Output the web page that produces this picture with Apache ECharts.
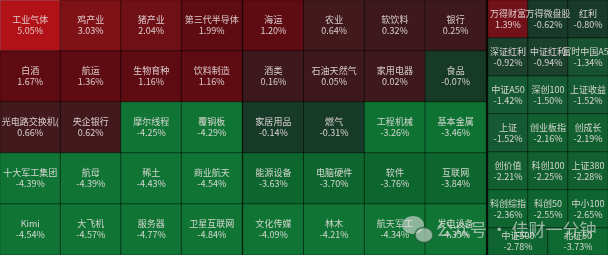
<!DOCTYPE html>
<html>
<head>
<meta charset="utf-8">
<script src="https://cdn.jsdelivr.net/npm/echarts@6/dist/echarts.min.js"></script>
<style>
  html, body { margin: 0; padding: 0; background: #0a0505; }
  #heat { width: 608px; height: 255px; }
</style>
</head>
<body>
<div id="heat"></div>
<script>
// 板块涨跌热力图
var leftNames = ['工业气体', '鸡产业', '猪产业', '第三代半导体',
                 '白酒', '航运', '生物育种', '饮料制造',
                 '光电路交换机(OCS)', '央企银行', '摩尔线程', '覆铜板',
                 '十大军工集团', '航母', '稀土', '商业航天',
                 'Kimi', '大飞机', '服务器', '卫星互联网'];
var leftValues = [5.05, 3.03, 2.04, 1.99,
                  1.67, 1.36, 1.16, 1.16,
                  0.66, 0.62, -4.25, -4.29,
                  -4.39, -4.39, -4.43, -4.54,
                  -4.54, -4.57, -4.77, -4.84];

var midNames = ['海运', '农业', '软饮料', '银行',
                '酒类', '石油天然气', '家用电器', '食品',
                '家居用品', '燃气', '工程机械', '基本金属',
                '能源设备', '电脑硬件', '软件', '互联网',
                '文化传媒', '林木', '航天军工', '发电设备'];
var midValues = [1.20, 0.64, 0.32, 0.25,
                 0.16, 0.05, 0.02, -0.07,
                 -0.14, -0.31, -3.26, -3.46,
                 -3.63, -3.70, -3.76, -3.84,
                 -4.09, -4.21, -4.34, -4.35];

var idxNames = ['万得财富', '万得微盘股', '红利',
                '深证红利', '中证红利', '富时中国A50',
                '中证A50', '深创100', '上证收益',
                '上证', '创业板指', '创成长',
                '创价值', '科创100', '上证380',
                '科创综指', '科创50', '中小100'];
var idxValues = [1.39, -0.62, -0.80,
                 -0.92, -0.94, -1.34,
                 -1.42, -1.50, -1.52,
                 -1.52, -2.16, -2.19,
                 -2.21, -2.25, -2.28,
                 -2.36, -2.55, -2.65];

var lastNames = ['中证500', '北证50'];
var lastValues = [-2.78, -3.73];

function toCells(values, cols) {
    return values.map(function (v, i) {
        return { value: [i % cols, Math.floor(i / cols), v] };
    });
}
function cats(n) {
    var a = [];
    for (var i = 0; i < n; i++) a.push(String(i));
    return a;
}
function labelOf(names, w) {
    var lab = {
        show: true,
        color: 'rgba(236,226,226,0.88)',
        fontSize: 9,
        lineHeight: 11,
        fontFamily: 'Noto Sans CJK SC',
        formatter: function (p) {
            return names[p.dataIndex] + '\n' + p.value[2].toFixed(2) + '%';
        }
    };
    if (w) {
        lab.width = w;
        lab.overflow = 'truncate';
        lab.ellipsis = '';
    }
    return lab;
}

var leftData = toCells(leftValues, 4);
leftData[0].itemStyle = { borderColor: '#7a8c9c', borderWidth: 1 };

var cellStyle = { borderColor: 'rgba(0,0,0,0.45)', borderWidth: 1 };

var chart = echarts.init(document.getElementById('heat'));
option = {
    backgroundColor: '#0a0505',
    animation: false,
    grid: [
        { left: 0, top: 0, width: 242, height: 255 },
        { left: 243, top: 0, width: 243, height: 255 },
        { left: 488, top: 0, width: 120, height: 228 },
        { left: 488, top: 228, width: 120, height: 32 }
    ],
    xAxis: [
        { gridIndex: 0, type: 'category', data: cats(4), show: false },
        { gridIndex: 1, type: 'category', data: cats(4), show: false },
        { gridIndex: 2, type: 'category', data: cats(3), show: false },
        { gridIndex: 3, type: 'category', data: cats(2), show: false }
    ],
    yAxis: [
        { gridIndex: 0, type: 'category', data: cats(5), inverse: true, show: false },
        { gridIndex: 1, type: 'category', data: cats(5), inverse: true, show: false },
        { gridIndex: 2, type: 'category', data: cats(6), inverse: true, show: false },
        { gridIndex: 3, type: 'category', data: cats(1), inverse: true, show: false }
    ],
    visualMap: [
        {
            type: 'piecewise', show: false, dimension: 2, seriesIndex: [0, 1],
            pieces: [
                { min: 4, color: '#b01218' },
                { min: 2.5, max: 4, color: '#7f1216' },
                { min: 2, max: 2.5, color: '#6f1016' },
                { min: 1, max: 2, color: '#5e0c12' },
                { min: 0.5, max: 1, color: '#421a1e' },
                { min: 0, max: 0.5, color: '#3d191d' },
                { min: -0.1, max: 0, color: '#163a26' },
                { min: -1, max: -0.1, color: '#183a28' },
                { min: -3.5, max: -1, color: '#0e7233' },
                { min: -4, max: -3.5, color: '#0c662d' },
                { max: -4, color: '#0f7434' }
            ]
        },
        {
            type: 'piecewise', show: false, dimension: 2, seriesIndex: [2, 3],
            pieces: [
                { min: 0, color: '#721218' },
                { min: -0.85, max: 0, color: '#183a2a' },
                { min: -1, max: -0.85, color: '#1b402d' },
                { min: -1.4, max: -1, color: '#175232' },
                { min: -2, max: -1.4, color: '#155a32' },
                { min: -2.3, max: -2, color: '#12602f' },
                { min: -3, max: -2.3, color: '#0f6530' },
                { max: -3, color: '#0e6a30' }
            ]
        }
    ],
    graphic: [
        {
            type: 'group', left: 402, top: 216, z: 100, silent: true,
            children: [
                { type: 'ellipse', z: 100, shape: { cx: 11, cy: 10, rx: 11, ry: 9 }, style: { fill: 'rgba(225,225,225,0.6)' } },
                { type: 'ellipse', z: 101, shape: { cx: 22, cy: 20, rx: 9, ry: 7.5 }, style: { fill: 'rgba(225,225,225,0.6)', stroke: 'rgba(20,90,45,0.7)', lineWidth: 1.5 } }
            ]
        },
        {
            type: 'text', left: 436, top: 221, z: 100, silent: true,
            style: { text: '公众号 · 佳财一分钟', fill: 'rgba(220,220,220,0.68)', fontSize: 17, fontFamily: 'Noto Sans CJK SC' }
        }
    ],
    series: [
        {
            type: 'heatmap', xAxisIndex: 0, yAxisIndex: 0,
            data: leftData, itemStyle: cellStyle,
            label: labelOf(leftNames, 64), emphasis: { disabled: true }
        },
        {
            type: 'heatmap', xAxisIndex: 1, yAxisIndex: 1,
            data: toCells(midValues, 4), itemStyle: cellStyle,
            label: labelOf(midNames, 64), emphasis: { disabled: true }
        },
        {
            type: 'heatmap', xAxisIndex: 2, yAxisIndex: 2,
            data: toCells(idxValues, 3), itemStyle: cellStyle,
            label: labelOf(idxNames), emphasis: { disabled: true }
        },
        {
            type: 'heatmap', xAxisIndex: 3, yAxisIndex: 3,
            data: toCells(lastValues, 2), itemStyle: cellStyle,
            label: labelOf(lastNames), emphasis: { disabled: true }
        }
    ]
};
chart.setOption(option);

window.onresize = function () {
    chart.resize();
};
</script>
</body>
</html>
